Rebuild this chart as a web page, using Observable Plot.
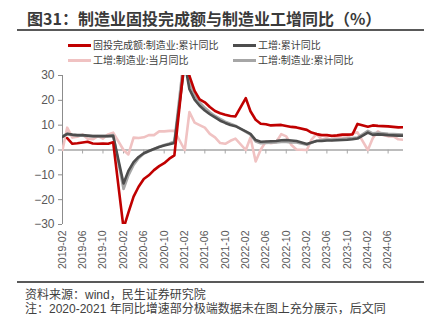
<!DOCTYPE html>
<html><head><meta charset="utf-8">
<script src="https://cdn.jsdelivr.net/npm/d3@7"></script>
<script src="https://cdn.jsdelivr.net/npm/@observablehq/plot@0.6"></script>
<style>
body{margin:0;background:#fff;}
#wrap{position:relative;width:435px;height:329px;overflow:hidden;font-family:"Noto Sans CJK SC",sans-serif;}
.title{position:absolute;left:27px;top:7px;font-size:16px;font-weight:bold;color:#3a3a3a;line-height:22px;white-space:nowrap;}
.rule{position:absolute;left:17px;width:407px;height:2px;background:#595959;}
.leg{position:absolute;font-size:10px;color:#404040;display:flex;align-items:center;white-space:nowrap;line-height:14px;}
.sw{display:inline-block;width:23px;height:3px;margin-right:2px;}
.foot{position:absolute;left:25px;font-size:12px;color:#404040;white-space:nowrap;line-height:14px;font-family:"Liberation Sans","Noto Sans CJK SC",sans-serif;}
#chart{position:absolute;left:0;top:68px;}
</style></head>
<body>
<div id="wrap">
  <div class="title">图31：制造业固投完成额与制造业工增同比（%）</div>
  <div class="rule" style="top:29px"></div>
  <div id="legend"></div>
  <div id="chart"></div>
  <div class="rule" style="top:281px"></div>
  <div class="foot" style="top:287.5px">资料来源：wind，民生证券研究院</div>
  <div class="foot" style="top:301.5px">注：2020-2021 年同比增速部分极端数据未在图上充分展示，后文同</div>
</div>
<script>
const months = [
  "2019-02","2019-03","2019-04","2019-05","2019-06","2019-07","2019-08","2019-09","2019-10","2019-11","2019-12",
  "2020-02","2020-03","2020-04","2020-05","2020-06","2020-07","2020-08","2020-09","2020-10","2020-11","2020-12",
  "2021-02","2021-03","2021-04","2021-05","2021-06","2021-07","2021-08","2021-09","2021-10","2021-11","2021-12",
  "2022-02","2022-03","2022-04","2022-05","2022-06","2022-07","2022-08","2022-09","2022-10","2022-11","2022-12",
  "2023-02","2023-03","2023-04","2023-05","2023-06","2023-07","2023-08","2023-09","2023-10","2023-11","2023-12",
  "2024-02","2024-03","2024-04","2024-05","2024-06","2024-07","2024-08","2024-09"
];
const faiMfgCum = [
  null,4.8,2.5,2.7,3.0,3.3,2.6,2.5,2.6,2.5,3.1,
  -31.5,-25.2,-18.8,-14.8,-11.7,-10.2,-8.1,-6.5,-5.3,-3.5,-2.2,
  37.3,29.8,23.8,20.4,19.2,17.3,15.7,14.8,14.2,13.7,13.5,
  20.9,15.6,12.2,10.6,10.4,9.9,10.0,10.1,9.7,9.3,9.1,
  8.1,7.0,6.4,6.0,6.0,5.7,5.9,6.2,6.2,6.3,10.5,
  9.4,9.9,9.7,9.6,9.5,9.3,9.1,9.2
];
const ivTotalCum = [
  5.3,6.5,6.2,6.0,6.0,5.8,5.6,5.6,5.6,5.6,5.7,
  -13.5,-8.4,-4.9,-2.8,-1.3,-0.4,0.4,1.2,1.8,2.3,2.8,
  35.1,24.5,20.3,17.8,15.9,14.4,13.1,11.8,10.9,10.1,9.6,
  7.5,6.5,4.0,3.3,3.4,3.5,3.6,3.9,4.0,3.8,3.6,
  2.4,3.0,3.6,3.6,3.8,3.8,3.9,4.0,4.1,4.3,4.6,
  7.0,6.1,6.3,6.2,6.0,5.9,5.8,5.8
];
const ivMfgMonthly = [
  0,9.0,5.0,5.3,6.2,4.5,4.3,5.6,4.6,6.3,7.0,
  0,-1.8,5.0,4.8,5.1,6.0,6.0,7.5,7.5,7.7,7.7,
  0,15.3,11.0,10.0,9.0,6.5,5.1,2.8,2.5,3.7,4.6,
  0,5.0,-4.6,0.1,3.4,2.7,3.1,6.4,5.5,2.0,0.2,
  0,4.2,6.5,4.1,4.8,3.9,5.4,5.0,5.1,6.7,7.1,
  0,4.7,7.5,6.0,5.5,5.6,4.3,4.1
];
const ivMfgCum = [
  5.6,6.5,6.0,5.8,5.8,5.7,5.6,5.6,5.6,5.6,6.0,
  -15.7,-10.2,-6.0,-3.3,-1.4,-0.5,0.4,1.3,2.0,2.6,3.4,
  39.9,27.2,22.2,19.2,17.0,15.2,13.7,12.5,11.4,10.6,9.8,
  7.3,6.2,3.4,2.7,2.8,2.9,3.0,3.2,3.2,3.0,3.0,
  2.1,2.9,3.7,4.0,4.2,4.2,4.3,4.4,4.6,4.8,5.0,
  7.7,6.7,6.9,6.7,6.5,6.4,6.3,6.2
];
const seriesNames = ["固投完成额:制造业:累计同比","工增:累计同比","工增:制造业:当月同比","工增:制造业:累计同比"];
const seriesColors = ["#c00000","#4d4d4d","#f0c2c2","#a6a6a6"];
const seriesValues = [faiMfgCum, ivTotalCum, ivMfgMonthly, ivMfgCum];
const xTickLabels = ["2019-02","2019-06","2019-10","2020-02","2020-06","2020-10","2021-02","2021-06","2021-10","2022-02","2022-06","2022-10","2023-02","2023-06","2023-10","2024-02","2024-06"];
const yTicks = [-30,-20,-10,0,10,20,30];

const parse = d3.utcParse("%Y-%m");
const xTicks = xTickLabels.map(parse);

// legend
const leg = document.getElementById("legend");
const legX = [68, 233], legY = [45, 60];
seriesNames.forEach((n, i) => {
  const el = document.createElement("div");
  el.className = "leg";
  el.style.left = legX[i % 2] + "px";
  el.style.top = (legY[Math.floor(i / 2)] - 7) + "px";
  el.innerHTML = `<span class="sw" style="background:${seriesColors[i]}"></span><span>${n}</span>`;
  leg.appendChild(el);
});

const drawOrder = [2, 3, 1, 0];
const lineMarks = drawOrder.map(k => {
  const rows = months.map((m, i) => ({date: parse(m), value: seriesValues[k][i]}));
  return Plot.line(rows, {x: "date", y: "value", stroke: seriesColors[k], strokeWidth: 2.6, clip: true, defined: d => d.value != null});
});

const chart = Plot.plot({
  width: 435, height: 212,
  marginLeft: 62, marginRight: 32, marginTop: 7, marginBottom: 56,
  style: {fontFamily: "'Liberation Sans', 'Noto Sans CJK SC', sans-serif", color: "#595959", background: "transparent"},
  x: {type: "utc", domain: [parse("2019-02"), parse("2024-09")]},
  y: {domain: [-30, 30]},
  marks: [
    Plot.ruleY([0], {stroke: "#a6a6a6", strokeWidth: 1.5}),
    Plot.ruleX(xTicks.slice(1), {y1: 0, y2: 0, insetBottom: -4, stroke: "#a6a6a6", strokeWidth: 1}),
    Plot.ruleX([parse("2019-02")], {stroke: "#8c8c8c", strokeWidth: 1}),
    Plot.axisY({ticks: yTicks, tickSize: 4, tickPadding: 4, fontSize: 12, stroke: "#8c8c8c", label: null}),
    Plot.axisX({ticks: xTicks, tickFormat: d3.utcFormat("%Y-%m"), tickRotate: -90, tickSize: 0, tickPadding: 6, fontSize: 10.5, label: null}),
    ...lineMarks
  ]
});
document.getElementById("chart").appendChild(chart);
</script>
</body></html>
